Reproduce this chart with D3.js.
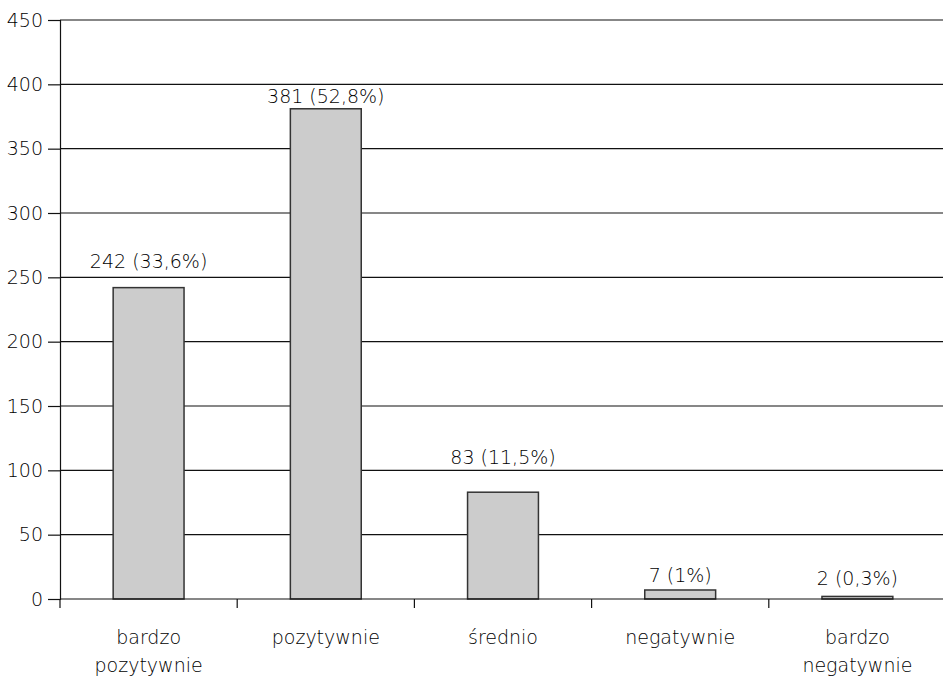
<!DOCTYPE html>
<html>
<head>
<meta charset="utf-8">
<script src="https://cdn.jsdelivr.net/npm/d3@7/dist/d3.min.js"></script>
<style>
  html, body { margin: 0; padding: 0; background: #fff; }
  svg text { font-family: "DejaVu Sans", "Liberation Sans", sans-serif; font-weight: 200; fill: #000; }
</style>
</head>
<body>
<svg id="chart" width="943" height="677"></svg>
<script>
// Ocena odpowiedzi: liczba wskazań i udział procentowy
const categories = [["bardzo", "pozytywnie"], ["pozytywnie"], ["średnio"], ["negatywnie"], ["bardzo", "negatywnie"]];
const counts = [242, 381, 83, 7, 2];
const shares = ["33,6%", "52,8%", "11,5%", "1%", "0,3%"];
const yTicks = [0, 50, 100, 150, 200, 250, 300, 350, 400, 450];

const svg = d3.select("#chart");
const plotLeft = 60, plotRight = 946, plotTop = 20, plotBottom = 599;
const fontSize = "19px";
const fontFamily = "'DejaVu Sans', 'Liberation Sans', sans-serif";

const x = d3.scaleBand().domain(d3.range(categories.length)).range([plotLeft, plotRight]).padding(0);
const y = d3.scaleLinear().domain([0, 450]).range([plotBottom, plotTop]);

// poziome linie siatki
svg.append("g")
  .selectAll("line")
  .data(yTicks.filter(t => t > 0))
  .join("line")
  .attr("x1", plotLeft).attr("x2", 943)
  .attr("y1", d => y(d)).attr("y2", d => y(d))
  .attr("stroke", "#111").attr("stroke-width", 1.2);

// oś Y
const yAxis = svg.append("g")
  .attr("transform", `translate(${plotLeft},0)`)
  .call(d3.axisLeft(y).tickValues(yTicks).tickSize(12).tickPadding(5).tickFormat(d3.format("d")));
yAxis.select(".domain").attr("stroke", "#111").attr("stroke-width", 1.2);
yAxis.selectAll(".tick line").attr("stroke", "#111").attr("stroke-width", 1.2);
yAxis.selectAll(".tick text")
  .style("font-size", fontSize).style("font-family", fontFamily).style("font-weight", 200)
  .attr("fill", "#000");

// słupki
const barW = x.bandwidth() * 0.4;
svg.append("g")
  .selectAll("rect")
  .data(counts)
  .join("rect")
  .attr("x", (d, i) => x(i) + (x.bandwidth() - barW) / 2)
  .attr("y", d => y(d))
  .attr("width", barW)
  .attr("height", d => y(0) - y(d))
  .attr("fill", "#cccccc")
  .attr("stroke", "#333")
  .attr("stroke-width", 1.5);

// etykiety wartości nad słupkami (odstęp dobrany tak, by nie kolidowały z siatką)
const labelGap = [20, 6, 28, 8, 11];
svg.append("g")
  .selectAll("text")
  .data(counts)
  .join("text")
  .attr("x", (d, i) => x(i) + x.bandwidth() / 2)
  .attr("y", (d, i) => y(d) - labelGap[i])
  .attr("text-anchor", "middle")
  .style("font-size", fontSize)
  .text((d, i) => `${d} (${shares[i]})`);

// oś X z kreskami na granicach kategorii
const xAxisG = svg.append("g");
xAxisG.append("line")
  .attr("x1", plotLeft).attr("x2", 943)
  .attr("y1", y(0)).attr("y2", y(0))
  .attr("stroke", "#111").attr("stroke-width", 1.2);
xAxisG.selectAll("line.tick")
  .data(d3.range(categories.length))
  .join("line")
  .attr("class", "tick")
  .attr("x1", i => x(i)).attr("x2", i => x(i))
  .attr("y1", y(0)).attr("y2", y(0) + 9)
  .attr("stroke", "#111").attr("stroke-width", 1.2);

// podpisy kategorii
const labels = svg.append("g")
  .selectAll("text")
  .data(categories)
  .join("text")
  .attr("x", (d, i) => x(i) + x.bandwidth() / 2)
  .attr("y", 644)
  .attr("text-anchor", "middle")
  .style("font-size", fontSize);
labels.selectAll("tspan")
  .data(d => d)
  .join("tspan")
  .attr("x", function() { return d3.select(this.parentNode).attr("x"); })
  .attr("dy", (d, i) => i === 0 ? 0 : 28)
  .text(d => d);
</script>
</body>
</html>
